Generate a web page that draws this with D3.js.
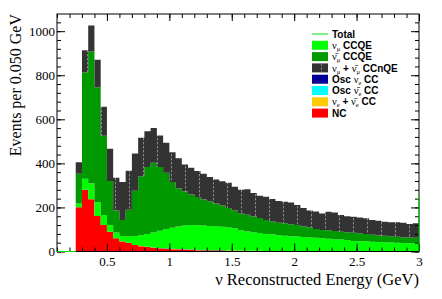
<!DOCTYPE html>
<html>
<head>
<meta charset="utf-8">
<script src="https://cdn.jsdelivr.net/npm/d3@7"></script>
<style>
  body { margin: 0; background: #fff; }
  svg { display: block; }
</style>
</head>
<body>
<svg width="442" height="299"></svg>
<script>
// **** Data: events per 0.05 GeV bin, bins start at 0.25 GeV ****
var binStart = 0.25;
var binWidth = 0.05;

var nc = [201, 280, 237, 161, 120, 90, 60, 45, 40, 30, 24, 20, 16, 14, 12, 10, 9, 8, 7, 6,
          5, 5, 4, 4, 3, 3, 3, 2, 2, 2, 2, 2, 1, 1, 1, 1, 1, 1, 1, 1,
          1, 1, 1, 1, 0, 0, 0, 0, 0, 0, 0, 0, 0, 0, 0];
var nueCC = [0, 0, 0, 0, 0, 0, 0, 0, 0, 0, 1, 1, 1, 1, 1, 1, 1, 1, 1, 1,
             1, 1, 1, 1, 1, 1, 1, 1, 1, 1, 0, 0, 0, 0, 0, 0, 0, 0, 0, 0,
             0, 0, 0, 0, 0, 0, 0, 0, 0, 0, 0, 0, 0, 0, 0];
var oscNuebarCC = [0, 0, 0, 0, 0, 0, 0, 0, 0, 0, 0, 0, 0, 0, 0, 0, 0, 0, 0, 0,
                   0, 0, 0, 0, 0, 0, 0, 0, 0, 0, 0, 0, 0, 0, 0, 0, 0, 0, 0, 0,
                   0, 0, 0, 0, 0, 0, 0, 0, 0, 0, 0, 0, 0, 0, 0];
var oscNueCC = [0, 0, 0, 0, 0, 0, 0, 0, 0, 0, 0, 0, 1, 1, 1, 1, 1, 1, 1, 1,
                1, 1, 1, 1, 1, 1, 0, 0, 0, 0, 0, 0, 0, 0, 0, 0, 0, 0, 0, 0,
                0, 0, 0, 0, 0, 0, 0, 0, 0, 0, 0, 0, 0, 0, 0];
var numuCCQE = [17, 50, 73, 63, 46, 30, 26, 25, 28, 40, 49, 58, 68, 78, 88, 96, 103, 108, 111, 111,
                111, 109, 108, 106, 104, 100, 91, 88, 84, 81, 78, 76, 73, 70, 68, 67, 65, 63, 61, 59,
                57, 55, 53, 51, 48, 47, 46, 44, 43, 42, 41, 40, 39, 38, 37];
var numubarCCQE = [135, 483, 598, 522, 359, 200, 100, 73, 121, 206, 268, 304, 317, 290, 256, 208, 173, 154, 139, 128,
                   118, 112, 104, 97, 89, 81, 78, 76, 72, 68, 63, 58, 57, 57, 55, 52, 47, 46, 40, 38,
                   39, 37, 36, 35, 37, 36, 34, 32, 30, 29, 28, 27, 26, 25, 25];
var ccnqe = [52, 100, 118, 124, 132, 146, 149, 173, 178, 169, 174, 163, 157, 142, 136, 134, 136, 123, 121, 118,
             117, 110, 109, 110, 114, 108, 107, 115, 107, 101, 105, 102, 98, 98, 98, 91, 84, 76, 79, 75,
             83, 84, 76, 73, 73, 71, 71, 67, 67, 64, 64, 66, 66, 62, 66];
// total spilling past the last drawn bin (seen on the right frame)
var totalOverflow = 257;

var xTicks = [0.5, 1, 1.5, 2, 2.5, 3];
var yTicks = [0, 200, 400, 600, 800, 1000];

var svg = d3.select('svg');
var margin = {t: 14, r: 23, b: 47.5, l: 57};
var width = +svg.attr('width') - margin.l - margin.r;
var height = +svg.attr('height') - margin.t - margin.b;

var xScale = d3.scaleLinear().domain([0.1, 3]).range([0, width]);
var yScale = d3.scaleLinear().domain([0, 1078]).range([height, 0]);

// Stack order, bottom to top
var keys = ['nc', 'nueCC', 'oscNuebarCC', 'oscNueCC', 'numuCCQE', 'numubarCCQE', 'ccnqe'];
var colors = {
    nc: '#ff0000', nueCC: '#ffcc00', oscNuebarCC: '#00ffff', oscNueCC: '#000099',
    numuCCQE: '#00ff00', numubarCCQE: '#009900', ccnqe: 'url(#ccnqe-fill)'
};
var series = {nc: nc, nueCC: nueCC, oscNuebarCC: oscNuebarCC, oscNueCC: oscNueCC,
              numuCCQE: numuCCQE, numubarCCQE: numubarCCQE, ccnqe: ccnqe};

var rows = nc.map(function(d, i) {
    var row = {lo: binStart + i * binWidth};
    keys.forEach(function(k) { row[k] = series[k][i]; });
    return row;
});
var stacked = d3.stack().keys(keys)(rows);

// Fill pattern for CCnQE: dark grey with faint dashed vertical strokes
var defs = svg.append('defs');
var pat = defs.append('pattern')
    .attr('id', 'ccnqe-fill')
    .attr('patternUnits', 'userSpaceOnUse')
    .attr('width', 14)
    .attr('height', 4)
    .attr('x', 0)
    .attr('y', 0);
pat.append('rect').attr('width', 14).attr('height', 4).attr('fill', '#333333');
pat.append('rect')
    .attr('x', 2).attr('y', 0).attr('width', 1).attr('height', 2.4)
    .attr('fill', '#8a8a8a');

var g = svg.append('g').attr('transform', 'translate(' + margin.l + ',' + margin.t + ')');

// Turn a stacked layer into step points (two per bin)
function steps(layer) {
    var pts = [];
    layer.forEach(function(d) {
        pts.push({x: d.data.lo, y0: d[0], y1: d[1]});
        pts.push({x: d.data.lo + binWidth, y0: d[0], y1: d[1]});
    });
    return pts;
}

var area = d3.area()
    .x(function(p) { return xScale(p.x); })
    .y0(function(p) { return yScale(p.y0); })
    .y1(function(p) { return yScale(p.y1); });
var topLine = d3.line()
    .x(function(p) { return xScale(p.x); })
    .y(function(p) { return yScale(p.y1); });

// Total histogram (mostly hidden under the stack)
var top = steps(stacked[stacked.length - 1]);
g.append('path')
    .attr('d', topLine(top))
    .attr('fill', 'none')
    .attr('stroke', '#00dd00')
    .attr('stroke-width', 1);

g.selectAll('.layer')
    .data(stacked)
    .enter().append('path')
    .attr('class', 'layer')
    .attr('d', function(d) { return area(steps(d)); })
    .attr('fill', function(d) { return colors[d.key]; });

// light outline on top of the stack
g.append('path')
    .attr('d', topLine(top))
    .attr('fill', 'none')
    .attr('stroke', '#a0a0a0')
    .attr('stroke-width', 1);

// Axes, ROOT style: ticks pointing inward on all four sides
var minorX = d3.range(0.1, 3.0001, 0.1);
var minorY = d3.range(0, 1078, 40);

function styleAxis(sel) {
    sel.select('.domain').remove();
    sel.selectAll('line').attr('stroke', '#000');
    sel.selectAll('text')
        .attr('font-family', '"Liberation Serif", "DejaVu Serif", serif')
        .attr('font-size', 13)
        .attr('fill', '#000');
}

g.append('g').attr('transform', 'translate(0,' + height + ')')
    .call(d3.axisBottom(xScale).tickValues(minorX).tickSize(-4).tickFormat(''))
    .call(styleAxis);
g.append('g').attr('transform', 'translate(0,' + height + ')')
    .call(d3.axisBottom(xScale).tickValues(xTicks).tickSize(-8).tickPadding(5).tickFormat(d3.format('')))
    .call(styleAxis);
g.append('g')
    .call(d3.axisTop(xScale).tickValues(minorX).tickSize(-4).tickFormat(''))
    .call(styleAxis);
g.append('g')
    .call(d3.axisTop(xScale).tickValues(xTicks).tickSize(-7).tickFormat(''))
    .call(styleAxis);

g.append('g')
    .call(d3.axisLeft(yScale).tickValues(minorY).tickSize(-4).tickFormat(''))
    .call(styleAxis);
g.append('g')
    .call(d3.axisLeft(yScale).tickValues(yTicks).tickSize(-8).tickPadding(2).tickFormat(d3.format('d')))
    .call(styleAxis);
g.append('g').attr('transform', 'translate(' + width + ',0)')
    .call(d3.axisRight(yScale).tickValues(minorY).tickSize(-4).tickFormat(''))
    .call(styleAxis);
g.append('g').attr('transform', 'translate(' + width + ',0)')
    .call(d3.axisRight(yScale).tickValues(yTicks).tickSize(-8).tickFormat(''))
    .call(styleAxis);

// Frame
g.append('rect')
    .attr('width', width)
    .attr('height', height)
    .attr('fill', 'none')
    .attr('stroke', '#000')
    .attr('stroke-width', 1);

// Visible bits of the Total line: empty region and the right edge
g.append('path')
    .attr('d', d3.line()([[xScale(0.1), yScale(0)], [xScale(binStart), yScale(0)]]))
    .attr('stroke', '#00dd00').attr('fill', 'none');
g.append('path')
    .attr('d', d3.line()([[xScale(3), yScale(0)], [xScale(3), yScale(totalOverflow)]]))
    .attr('stroke', '#00dd00').attr('fill', 'none');

// Axis titles
svg.append('text')
    .attr('x', margin.l + width)
    .attr('y', 285)
    .attr('text-anchor', 'end')
    .attr('font-family', '"Liberation Serif", serif')
    .attr('font-size', 16.5)
    .text('\u03bd Reconstructed Energy (GeV)');
svg.append('text')
    .attr('transform', 'translate(21,' + margin.t + ') rotate(-90)')
    .attr('text-anchor', 'end')
    .attr('font-family', '"Liberation Serif", serif')
    .attr('font-size', 16)
    .text('Events per 0.050 GeV');

// Legend
var legendItems = [
    {key: 'total', parts: [['b', 'Total']]},
    {key: 'numuCCQE', parts: [['nu', '\u03bd', '\u03bc'], ['b', ' CCQE']]},
    {key: 'numubarCCQE', parts: [['nu', '\u03bd\u0304', '\u03bc'], ['b', ' CCQE']]},
    {key: 'ccnqe', parts: [['nu', '\u03bd', '\u03bc'], ['b', ' + '], ['nu', '\u03bd\u0304', '\u03bc'], ['b', ' CCnQE']]},
    {key: 'oscNueCC', parts: [['b', 'Osc '], ['nu', '\u03bd', 'e'], ['b', ' CC']]},
    {key: 'oscNuebarCC', parts: [['b', 'Osc '], ['nu', '\u03bd\u0304', 'e'], ['b', ' CC']]},
    {key: 'nueCC', parts: [['nu', '\u03bd', 'e'], ['b', ' + '], ['nu', '\u03bd\u0304', 'e'], ['b', ' CC']]},
    {key: 'nc', parts: [['b', 'NC']]}
];

var legend = svg.selectAll('.legend-item')
    .data(legendItems)
    .enter().append('g')
    .attr('class', 'legend-item')
    .attr('transform', function(d, i) { return 'translate(312,' + (34 + i * 11.3) + ')'; });

legend.each(function(d) {
    var item = d3.select(this);
    if (d.key === 'total') {
        item.append('line').attr('x1', 0).attr('x2', 16).attr('y1', 0).attr('y2', 0)
            .attr('stroke', '#00dd00').attr('stroke-width', 1);
    } else {
        item.append('rect').attr('x', 0).attr('y', -4.5).attr('width', 16).attr('height', 9)
            .attr('fill', d.key === 'ccnqe' ? '#333333' : colors[d.key]);
        if (d.key === 'ccnqe') {
            item.append('line').attr('x1', 9.5).attr('x2', 9.5).attr('y1', -4.5).attr('y2', 4.5)
                .attr('stroke', '#8a8a8a').attr('stroke-dasharray', '2.4,1.6');
        }
    }
    var text = item.append('text')
        .attr('x', 20)
        .attr('y', 3.6)
        .attr('font-family', '"Liberation Sans", Arial, sans-serif')
        .attr('font-weight', 'bold')
        .attr('font-size', 10);
    d.parts.forEach(function(p) {
        if (p[0] === 'b') {
            text.append('tspan').text(p[1].replace(/ /g, '\u00a0'));
        } else {
            text.append('tspan')
                .attr('font-family', '"Liberation Serif", serif')
                .attr('font-weight', 'normal')
                .attr('font-size', 10.5)
                .text(p[1]);
            text.append('tspan')
                .attr('font-family', '"Liberation Serif", serif')
                .attr('font-weight', 'normal')
                .attr('font-size', 6.5)
                .attr('baseline-shift', -2)
                .text(p[2]);
        }
    });
});
</script>
</body>
</html>
